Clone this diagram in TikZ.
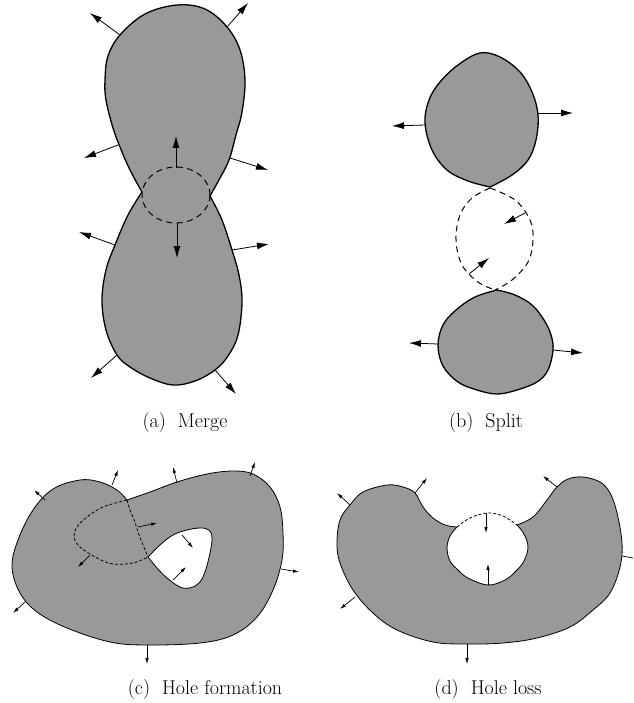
\documentclass[tikz,border=0pt]{standalone}
\usetikzlibrary{arrows.meta}
\definecolor{shade}{RGB}{153,153,153}
\tikzset{
  blob/.style={fill=shade, draw=black, line width=1.3pt, line join=round},
  thinline/.style={draw=black, line width=0.8pt, line join=round},
  bigarrow/.style={-{Latex[length=12pt,width=7pt]}, line width=0.8pt},
  smallarrow/.style={-{Latex[length=6pt,width=3.5pt]}, line width=0.7pt},
  bigdash/.style={draw=black, line width=1pt, dash pattern=on 6pt off 4.5pt},
  smalldash/.style={draw=black, line width=0.8pt, dash pattern=on 3pt off 2pt},
  captext/.style={font=\fontsize{20}{24}\selectfont, inner sep=0pt}
}
\begin{document}
\begin{tikzpicture}[x=1pt,y=-1pt]
\useasboundingbox (0,0) rectangle (633,703);

% ---------------- (a) Merge ----------------
\draw[blob] plot[smooth, tension=0.6] coordinates {(142,192) (131,172) (122,152) (113,128) (106,100) (105,80) (108,56) (120,35) (145,14) (177,5) (205,9) (227,27) (240,50) (245,80) (242,112) (236,135) (229,160) (220,178) (210,196)}
  -- plot[smooth, tension=0.6] coordinates {(210,196) (222,220) (232,250) (239,275) (242,302) (238,335) (228,356) (215,370) (195,381) (173,385) (150,378) (130,367) (117,355) (106,330) (102,300) (106,270) (115,245) (128,215) (142,192)} -- cycle;
\draw[bigdash] (176,195) ellipse [x radius=34pt, y radius=28pt];
\draw[bigarrow] (120,35) -- (90,13);
\draw[bigarrow] (227,27) -- (248,3);
\draw[bigarrow] (118,145) -- (84,158);
\draw[bigarrow] (230,158) -- (268,170);
\draw[bigarrow] (115,245) -- (79,232);
\draw[bigarrow] (232,250) -- (269,244);
\draw[bigarrow] (117,355) -- (91,378);
\draw[bigarrow] (215,370) -- (236,394);
\draw[bigarrow] (176,168) -- (176,136);
\draw[bigarrow] (177,223) -- (177,258);

% ---------------- (b) Split ----------------
\draw[blob] plot[smooth, tension=0.6] coordinates {(490,187) (468,181) (447,170) (432,150) (425,123) (429,100) (440,82) (458,65) (480,53) (500,57) (520,72) (532,92) (538,115) (536,140) (528,160) (512,175) (490,187)} -- cycle;
\draw[bigdash] plot[smooth, tension=0.6] coordinates {(490,188) (515,200) (530,220) (533,240) (528,262) (512,280) (495,290)};
\draw[bigdash] plot[smooth, tension=0.6] coordinates {(490,188) (472,198) (460,215) (456,240) (462,265) (478,282) (495,290)};
\draw[blob] plot[smooth, tension=0.6] coordinates {(497,290) (515,295) (532,305) (544,320) (551,335) (553,350) (548,370) (537,382) (517,390) (497,394) (477,390) (458,382) (443,366) (438,345) (443,325) (456,310) (475,297) (497,290)} -- cycle;
\draw[bigarrow] (425,125) -- (392,126);
\draw[bigarrow] (538,113) -- (573,113);
\draw[bigarrow] (438,344) -- (409,343);
\draw[bigarrow] (553,350) -- (583,353);
\draw[bigarrow] (525,213) -- (504,224);
\draw[bigarrow] (469,274) -- (489,258);

% ---------------- (c) Hole formation ----------------
\path[fill=shade, even odd rule]
  plot[smooth, tension=0.6] coordinates {(127,500) (150,492) (177,482) (207,474) (233,471) (253,474) (270,487) (280,507) (283,533) (282,560) (273,590) (257,617) (233,635) (200,643) (147,645) (110,642) (67,628) (37,612) (20,593) (12,567) (18,540) (33,510) (53,489) (80,480) (100,482) (117,490) (127,500)} -- cycle
  plot[smooth, tension=0.6] coordinates {(148,557) (160,545) (173,535) (187,530) (200,528) (209,530) (212,538) (210,553) (205,572) (199,583) (190,588) (180,587) (167,578) (157,568) (148,557)} -- cycle;
\draw[thinline] plot[smooth, tension=0.6] coordinates {(127,500) (150,492) (177,482) (207,474) (233,471) (253,474) (270,487) (280,507) (283,533) (282,560) (273,590) (257,617) (233,635) (200,643) (147,645) (110,642) (67,628) (37,612) (20,593) (12,567) (18,540) (33,510) (53,489) (80,480) (100,482) (117,490) (127,500)} -- cycle;
\draw[thinline] plot[smooth, tension=0.6] coordinates {(148,557) (160,545) (173,535) (187,530) (200,528) (209,530) (212,538) (210,553) (205,572) (199,583) (190,588) (180,587) (167,578) (157,568) (148,557)} -- cycle;
\draw[smalldash] plot[smooth, tension=0.6] coordinates {(127,500) (130,510) (135,522) (138,532) (143,545) (148,557)};
\draw[smalldash] plot[smooth, tension=0.6] coordinates {(127,500) (103,507) (87,517) (77,527) (74,537) (80,547) (97,558) (113,564) (133,563) (148,557)};
\draw[smallarrow] (45,500) -- (34,490);
\draw[smallarrow] (112,485) -- (118,470);
\draw[smallarrow] (177,483) -- (173,467);
\draw[smallarrow] (250,476) -- (255,462);
\draw[smallarrow] (281,569) -- (299,572);
\draw[smallarrow] (147,645) -- (147,664);
\draw[smallarrow] (25,602) -- (13,613);
\draw[smallarrow] (90,555) -- (78,567);
\draw[smallarrow] (138,527) -- (157,523);
\draw[smallarrow] (182,535) -- (193,548);
\draw[smallarrow] (173,580) -- (186,567);

% ---------------- (d) Hole loss ----------------
\draw[fill=shade, thinline]
  plot[smooth, tension=0.6] coordinates {(457,527) (450,536) (447,548) (450,561) (458,570) (468,578) (488,585) (505,580) (516,571) (524,561) (528,547) (524,534) (517,525)}
  -- plot[smooth, tension=0.6] coordinates {(517,525) (533,517) (547,500) (557,487) (568,479) (583,477) (600,482) (610,493) (617,513) (622,543) (620,567) (610,593) (593,610) (570,627) (537,638) (503,643) (467,644) (433,642) (397,630) (373,613) (353,590) (340,563) (337,543) (340,520) (350,505) (363,492) (387,485) (403,487) (415,493) (423,507) (433,518) (445,525) (457,527)} -- cycle;
\draw[smalldash] plot[smooth, tension=0.6] coordinates {(457,527) (470,518) (487,513) (503,516) (517,525)};
\draw[smallarrow] (350,505) -- (337,493);
\draw[smallarrow] (415,493) -- (427,478);
\draw[smallarrow] (557,487) -- (543,476);
\draw[line width=0.7pt] (622,556) -- (633,558);
\draw[smallarrow] (467,644) -- (467,664);
\draw[smallarrow] (355,597) -- (340,609);
\draw[smallarrow] (486,513) -- (486,533);
\draw[smallarrow] (488,585) -- (488,564);

% ---------------- captions ----------------
\node[captext, anchor=base] (capa) at (185,427) {(a)\hspace{0.6em}Merge};
\node[captext, anchor=base] (capb) at (486,427) {(b)\hspace{0.6em}Split};
\node[captext, anchor=base] (capc) at (205,694) {(c)\hspace{0.6em}Hole formation};
\node[captext, anchor=base] (capd) at (488,694) {(d)\hspace{0.6em}Hole loss};
\end{tikzpicture}
\end{document}
